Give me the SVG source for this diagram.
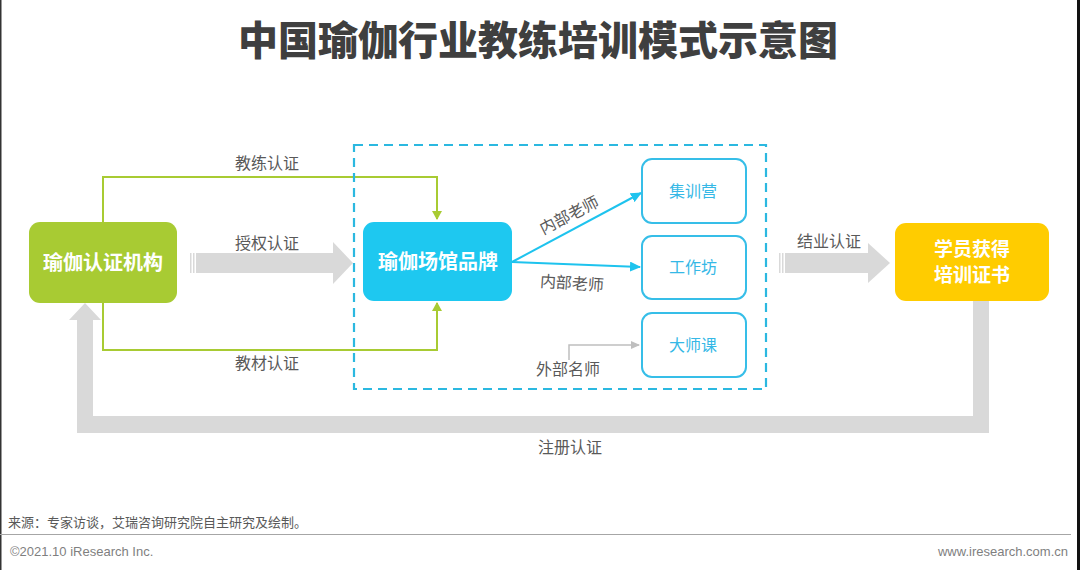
<svg xmlns="http://www.w3.org/2000/svg" width="1080" height="570" viewBox="0 0 1080 570">
<defs>
<style>
.t{font-family:"Noto Sans CJK SC","Noto Sans",sans-serif;}
.title{font-size:40px;font-weight:900;fill:#3F3F3F;}
.node{font-size:20px;font-weight:bold;fill:#FFFFFF;}
.node2{font-size:19px;font-weight:bold;fill:#FFFFFF;}
.sub{font-size:16px;fill:#35B8E6;}
.lbl{font-size:16px;fill:#595959;}
.foot{font-family:"Liberation Sans","Noto Sans CJK SC",sans-serif;font-size:13px;fill:#7F7F7F;}
.src{font-size:13px;fill:#595959;}
.gline{fill:none;stroke:#A8CB33;stroke-width:2;}
.bline{fill:none;stroke:#1EC3EE;stroke-width:2;}
.gray{fill:#D9D9D9;}
.subbox{fill:#FFFFFF;stroke:#36BEE8;stroke-width:2;}
</style>
<marker id="ag" markerWidth="10" markerHeight="10" refX="8" refY="5" orient="auto" markerUnits="userSpaceOnUse"><path d="M0,0 L9,5 L0,10 Z" fill="#A8CB33"/></marker>
<marker id="ab" markerWidth="12" markerHeight="10" refX="10" refY="5" orient="auto" markerUnits="userSpaceOnUse"><path d="M0,0 L11,5 L0,10 Z" fill="#1EC3EE"/></marker>
<marker id="agr" markerWidth="10" markerHeight="8" refX="8" refY="4" orient="auto" markerUnits="userSpaceOnUse"><path d="M0,0 L9,4 L0,8 Z" fill="#BFBFBF"/></marker>
</defs>
<rect x="0" y="0" width="1080" height="570" fill="#FFFFFF"/>
<rect x="0" y="0" width="1.5" height="570" fill="#333333"/>
<rect x="1077" y="0" width="3" height="570" fill="#111111"/>

<text class="t title" x="538" y="55" text-anchor="middle">中国瑜伽行业教练培训模式示意图</text>

<g id="connectors">
  <path class="gline" d="M103,223 V177 H437 V219" marker-end="url(#ag)"/>
  <path class="gline" d="M103,302 V350 H437 V303" marker-end="url(#ag)"/>
  <g id="arrow-auth" class="gray">
    <rect x="190" y="253" width="1.5" height="20"/>
    <rect x="193" y="253" width="1.5" height="20"/>
    <rect x="196" y="253" width="137" height="20"/>
    <path d="M333,242 L353,263 L333,284 Z"/>
  </g>
  <g id="arrow-grad" class="gray">
    <rect x="779" y="253" width="1.5" height="20"/>
    <rect x="782" y="253" width="1.5" height="20"/>
    <rect x="785" y="253" width="84" height="20"/>
    <path d="M868,243 L890,263 L868,283 Z"/>
  </g>
  <path id="arrow-reg" class="gray" d="M973,301 H989 V433 H77 V320 H69 L85,303 L101,320 H93 V416 H973 Z"/>
  <path class="bline" d="M512,262 L641,193" marker-end="url(#ab)"/>
  <path class="bline" d="M512,262 L640,267" marker-end="url(#ab)"/>
  <path d="M569,360 V345 H639" fill="none" stroke="#BFBFBF" stroke-width="1.5" marker-end="url(#agr)"/>
</g>

<rect id="group-box" x="354" y="145" width="412" height="244" fill="none" stroke="#2BB8E0" stroke-width="2.2" stroke-dasharray="9,6"/>

<g id="n-cert">
  <rect x="29" y="222" width="148" height="81" rx="11" fill="#A8CB33"/>
  <text class="t node" x="103" y="270" text-anchor="middle">瑜伽认证机构</text>
</g>
<g id="n-brand">
  <rect x="363" y="222" width="149" height="79" rx="11" fill="#1EC8F0"/>
  <text class="t node" x="438" y="269" text-anchor="middle">瑜伽场馆品牌</text>
</g>
<g id="n-camp">
  <rect class="subbox" x="642" y="159" width="104" height="64" rx="10"/>
  <text class="t sub" x="693" y="197" text-anchor="middle">集训营</text>
</g>
<g id="n-workshop">
  <rect class="subbox" x="642" y="236" width="104" height="63" rx="10"/>
  <text class="t sub" x="693" y="273" text-anchor="middle">工作坊</text>
</g>
<g id="n-master">
  <rect class="subbox" x="642" y="313" width="104" height="64" rx="10"/>
  <text class="t sub" x="693" y="351" text-anchor="middle">大师课</text>
</g>
<g id="n-student">
  <rect x="895" y="223" width="154" height="78" rx="11" fill="#FFCC00"/>
  <text class="t node2" x="972" y="256" text-anchor="middle">学员获得</text>
  <text class="t node2" x="972" y="282" text-anchor="middle">培训证书</text>
</g>

<g id="labels">
  <text class="t lbl" x="267" y="169" text-anchor="middle">教练认证</text>
  <text class="t lbl" x="267" y="249" text-anchor="middle">授权认证</text>
  <text class="t lbl" x="267" y="369" text-anchor="middle">教材认证</text>
  <text class="t lbl" x="829" y="247" text-anchor="middle">结业认证</text>
  <text class="t lbl" x="570" y="453" text-anchor="middle">注册认证</text>
  <text class="t lbl" x="0" y="0" text-anchor="middle" transform="translate(569,215) rotate(-27) translate(0,6)">内部老师</text>
  <text class="t lbl" x="0" y="0" text-anchor="middle" transform="translate(572,283) rotate(4) translate(0,6)">内部老师</text>
  <text class="t lbl" x="568" y="375" text-anchor="middle">外部名师</text>
</g>

<text class="t src" x="8" y="527">来源：专家访谈，艾瑞咨询研究院自主研究及绘制。</text>
<line x1="0" y1="534.5" x2="1071" y2="534.5" stroke="#A6A6A6" stroke-width="1"/>
<text class="foot" x="10" y="556">©2021.10 iResearch Inc.</text>
<text class="foot" x="1068" y="556" text-anchor="end">www.iresearch.com.cn</text>
</svg>
